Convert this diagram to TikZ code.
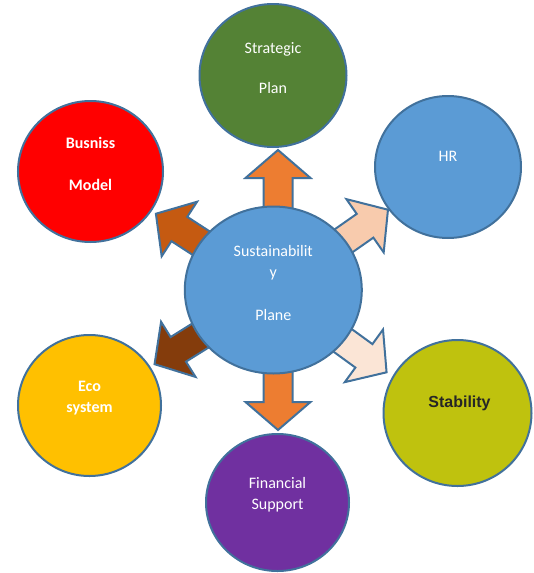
\documentclass[tikz,border=0pt]{standalone}
\usepackage{fontspec}
\setmainfont{Carlito}
\newfontfamily\arialfont{Liberation Sans}
\usetikzlibrary{shapes.geometric}

\definecolor{bordercol}{HTML}{41719C}
\definecolor{hubblue}{HTML}{5B9BD5}
\definecolor{plangreen}{HTML}{548235}
\definecolor{modelred}{HTML}{FF0000}
\definecolor{ecoyellow}{HTML}{FFC000}
\definecolor{stabolive}{HTML}{BFC20E}
\definecolor{finpurple}{HTML}{7030A0}
\definecolor{arroworange}{HTML}{ED7D31}
\definecolor{arrowrust}{HTML}{C55A11}
\definecolor{arrowbrown}{HTML}{843C0C}
\definecolor{arrowpeach}{HTML}{F8CBAD}
\definecolor{arrowcream}{HTML}{FBE5D6}
\definecolor{darktext}{HTML}{262626}

% block arrow: origin, angle, fill
\newcommand{\blockarrow}[3]{%
	\draw[arrowline, fill=#3, shift={(#1)}, rotate=#2]
	(60,-14.5) -- (112,-14.5) -- (112,-32.5) -- (140,0)
	-- (112,32.5) -- (112,14.5) -- (60,14.5) -- cycle;
}

\begin{document}
\begin{tikzpicture}[x=1pt,y=-1pt,
	bubble/.style={ellipse, draw=bordercol, line width=2pt, inner sep=0pt},
	bubbletext/.style={align=center, text=white, inner sep=0pt,
		font=\fontsize{16}{21}\selectfont},
	arrowline/.style={draw=bordercol, line width=2pt, line join=miter}]
	\useasboundingbox (0,0) rectangle (534,573);
	
	\coordinate (hub) at (273.3,290);
	\coordinate (stem) at (278,290); % axis of the vertical arrows
	
	% outer circles
	\node[bubble, fill=plangreen, minimum width=147pt, minimum height=143pt] (plan) at (273,75.5) {};
	\node[bubble, fill=hubblue, minimum width=146pt, minimum height=142pt] (hr) at (448,167) {};
	\node[bubble, fill=modelred, minimum width=145pt, minimum height=141pt] (model) at (90.5,171.5) {};
	\node[bubble, fill=ecoyellow, minimum width=143pt, minimum height=141pt] (eco) at (89.5,405.5) {};
	\node[bubble, fill=stabolive, minimum width=148pt, minimum height=146pt] (stab) at (457.5,413) {};
	\node[bubble, fill=finpurple, minimum width=143pt, minimum height=137pt] (fin) at (277.5,502.5) {};
	
	% arrows from the hub
	\blockarrow{stem}{90}{arroworange}
	\blockarrow{stem}{-90}{arroworange}
	\blockarrow{hub}{147}{arrowrust}
	\blockarrow{hub}{35}{arrowpeach}
	\blockarrow{hub}{212}{arrowbrown}
	\blockarrow{hub}{-36}{arrowcream}
	
	% centre circle
	\node[bubble, fill=hubblue, minimum width=177pt, minimum height=167pt] (sus) at (hub) {};
	
	% texts
	\node[bubbletext] at ([yshift=7.5pt]sus.center) {Sustainabilit\\y\\[22pt]Plane};
	\node[bubbletext] at ([yshift=7pt]plan.center) {Strategic\\[19pt]Plan};
	\node[bubbletext] at ([yshift=11pt]hr.center) {HR};
	\node[bubbletext, font=\fontsize{16}{21}\selectfont\bfseries] at ([yshift=7.5pt]model.center) {Busniss\\[21pt]Model};
	\node[bubbletext, font=\fontsize{16}{21}\selectfont\bfseries] at ([yshift=7.5pt]eco.center) {Eco\\system};
	\node[bubbletext, text=darktext, font=\fontsize{16}{21}\selectfont\arialfont\bfseries] at ([xshift=2pt,yshift=10pt]stab.center) {Stability};
	\node[bubbletext] at ([yshift=8pt]fin.center) {Financial\\Support};
\end{tikzpicture}
\end{document}
